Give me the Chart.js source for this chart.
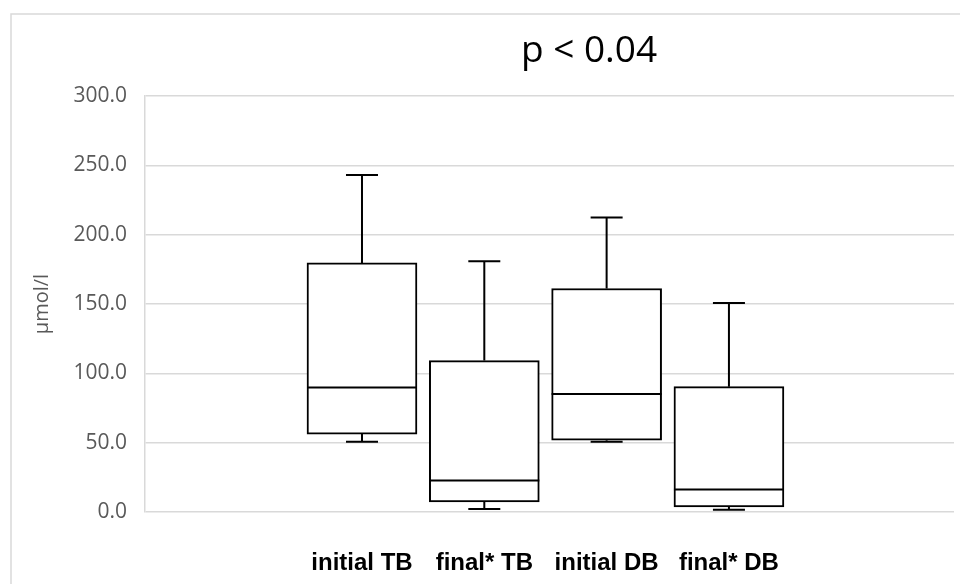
<!DOCTYPE html>
<html>
<head>
<meta charset="utf-8">
<script src="https://cdn.jsdelivr.net/npm/chart.js@4"></script>
<style>
  html, body { margin: 0; padding: 0; background: #fff; }
  canvas { display: block; }
</style>
</head>
<body>
<canvas id="boxChart" width="960" height="584"></canvas>
<script>
// box plot values (µmol/l)
const groups = ['initial TB', 'final* TB', 'initial DB', 'final* DB'];
const whiskerMax = [243.0, 180.8, 212.4, 150.7];
const q3 = [179.6, 109.2, 161.2, 90.4];
const median = [89.7, 22.7, 85.1, 16.2];
const q1 = [56.2, 7.2, 51.8, 3.6];
const whiskerMin = [50.6, 2.2, 50.6, 1.7];
const yTicks = [0, 50, 100, 150, 200, 250, 300];

const boxData = groups.map((g, i) => ({ x: i + 1, y: [q1[i], q3[i]] }));

// whiskers + median lines, drawn through the scales
const boxExtras = {
  id: 'boxExtras',
  afterDatasetsDraw(chart) {
    const { ctx, scales: { x, y } } = chart;
    ctx.save();
    ctx.strokeStyle = '#000';
    ctx.lineWidth = 2;
    groups.forEach((g, i) => {
      const cx = x.getPixelForValue(i + 1);
      const half = 55, cap = 16;
      ctx.beginPath();
      // upper whisker
      ctx.moveTo(cx, y.getPixelForValue(q3[i]));
      ctx.lineTo(cx, y.getPixelForValue(whiskerMax[i]));
      ctx.moveTo(cx - cap, y.getPixelForValue(whiskerMax[i]));
      ctx.lineTo(cx + cap, y.getPixelForValue(whiskerMax[i]));
      // lower whisker
      ctx.moveTo(cx, y.getPixelForValue(q1[i]));
      ctx.lineTo(cx, y.getPixelForValue(whiskerMin[i]));
      ctx.moveTo(cx - cap, y.getPixelForValue(whiskerMin[i]));
      ctx.lineTo(cx + cap, y.getPixelForValue(whiskerMin[i]));
      // median
      ctx.moveTo(cx - half, y.getPixelForValue(median[i]));
      ctx.lineTo(cx + half, y.getPixelForValue(median[i]));
      ctx.stroke();
    });
    ctx.restore();
  }
};

// outer frame and the title text
const frameAndTitle = {
  id: 'frameAndTitle',
  beforeDraw(chart) {
    const ctx = chart.ctx;
    ctx.save();
    ctx.fillStyle = '#fff';
    ctx.fillRect(0, 0, chart.width, chart.height);
    ctx.strokeStyle = '#d9d9d9';
    ctx.lineWidth = 1.5;
    ctx.strokeRect(11, 14, 1000, 1000);
    ctx.restore();
  },
  afterDraw(chart) {
    const ctx = chart.ctx;
    ctx.save();
    ctx.fillStyle = '#000';
    ctx.font = '37px "Open Sans"';
    ctx.textAlign = 'center';
    ctx.textBaseline = 'alphabetic';
    ctx.fillText('p < 0.04', 589, 62);
    ctx.restore();
  }
};

const ctx = document.getElementById('boxChart').getContext('2d');
new Chart(ctx, {
  type: 'bar',
  data: {
    datasets: [{
      data: boxData,
      backgroundColor: '#fff',
      borderColor: '#000',
      borderWidth: 2,
      borderSkipped: false,
      barThickness: 110
    }]
  },
  options: {
    responsive: false,
    animation: false,
    devicePixelRatio: 1,
    layout: { padding: { top: 96, left: 11, right: 6, bottom: 8 } },
    plugins: {
      legend: { display: false },
      tooltip: { enabled: false },
      title: { display: false }
    },
    scales: {
      x: {
        type: 'linear',
        min: -0.774,
        max: 5.84,
        offset: false,
        grid: { display: false, offset: false },
        border: { display: false },
        afterBuildTicks: scale => { scale.ticks = groups.map((g, i) => ({ value: i + 1 })); },
        afterFit: scale => { scale.height = 64; },
        ticks: {
          padding: 29,
          color: '#000',
          font: { family: '"Liberation Sans", Arial', size: 24, weight: 'bold' },
          callback: v => groups[v - 1]
        }
      },
      y: {
        min: 0,
        max: 300,
        afterBuildTicks: scale => { scale.ticks = yTicks.map(v => ({ value: v })); },
        afterFit: scale => { scale.width = 134; },
        grid: { color: '#d9d9d9', lineWidth: 1.5, drawTicks: false },
        border: { display: true, color: '#d9d9d9', width: 1.5 },
        ticks: {
          padding: 18,
          color: '#595959',
          font: { family: '"Open Sans"', size: 21 },
          callback: v => v.toFixed(1)
        },
        title: {
          display: true,
          text: 'µmol/l',
          color: '#595959',
          font: { family: '"Open Sans"', size: 20 },
          padding: { top: 19, bottom: 0 }
        }
      }
    }
  },
  plugins: [frameAndTitle, boxExtras]
});
</script>
</body>
</html>
